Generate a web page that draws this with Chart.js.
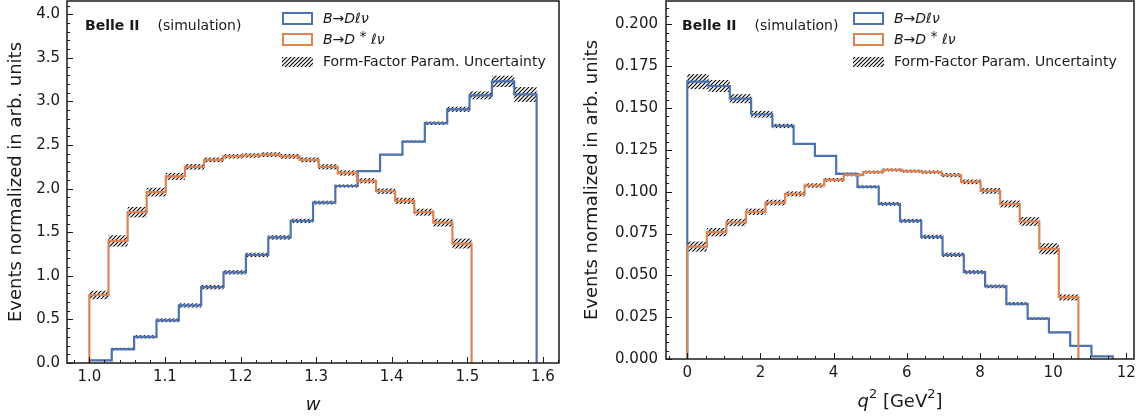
<!DOCTYPE html>
<html>
<head>
<meta charset="utf-8">
<title>B → D(*) ℓν shapes</title>
<script src="https://cdn.jsdelivr.net/npm/chart.js@4.4.1/dist/chart.umd.min.js"></script>
<style>
  html, body { margin: 0; padding: 0; background: #fff; }
  .panel { position: absolute; top: 0; height: 417px; }
  #wPanel { left: 0; width: 568px; }
  #q2Panel { left: 572px; width: 564px; }
</style>
</head>
<body>
<div class="panel" id="wPanel"><canvas id="wChart"></canvas></div>
<div class="panel" id="q2Panel"><canvas id="q2Chart"></canvas></div>
<script>
// ---- w spectra, 20 bins each ----
const wEdgesD = [1.0000, 1.0296, 1.0592, 1.0888, 1.1183, 1.1479, 1.1775, 1.2071, 1.2367, 1.2663, 1.2959,
                 1.3254, 1.3550, 1.3846, 1.4142, 1.4438, 1.4734, 1.5029, 1.5325, 1.5621, 1.5917];
const wDlnu = [0.03, 0.16, 0.30, 0.49, 0.66, 0.87, 1.04, 1.24, 1.44, 1.63,
               1.84, 2.03, 2.20, 2.39, 2.54, 2.75, 2.91, 3.07, 3.23, 3.08];
const wDlnuErr = [0.008, 0.015, 0.02, 0.022, 0.025, 0.025, 0.025, 0.025, 0.025, 0.025,
                  0.022, 0.018, 0.01, 0.008, 0.012, 0.02, 0.03, 0.045, 0.065, 0.085];

const wEdgesDst = [1.0000, 1.0253, 1.0506, 1.0758, 1.1011, 1.1264, 1.1517, 1.1770, 1.2022, 1.2275, 1.2528,
                   1.2781, 1.3034, 1.3286, 1.3539, 1.3792, 1.4045, 1.4298, 1.4550, 1.4803, 1.5056];
const wDstlnu = [0.78, 1.40, 1.73, 1.96, 2.14, 2.25, 2.33, 2.37, 2.38, 2.39,
                 2.37, 2.33, 2.25, 2.18, 2.09, 1.97, 1.86, 1.73, 1.61, 1.37];
const wDstlnuErr = [0.048, 0.065, 0.06, 0.05, 0.04, 0.032, 0.027, 0.025, 0.025, 0.027,
                    0.027, 0.028, 0.03, 0.03, 0.03, 0.032, 0.035, 0.04, 0.045, 0.057];

const wTicks = [1.0, 1.1, 1.2, 1.3, 1.4, 1.5, 1.6];
const wTickLabels = ['1.0', '1.1', '1.2', '1.3', '1.4', '1.5', '1.6'];
const wYTicks = [0, 0.5, 1.0, 1.5, 2.0, 2.5, 3.0, 3.5, 4.0];
const wYTickLabels = ['0.0', '0.5', '1.0', '1.5', '2.0', '2.5', '3.0', '3.5', '4.0'];

// ---- q^2 spectra, 20 bins each ----
const q2EdgesD = [0, 0.5814, 1.1628, 1.7442, 2.3256, 2.9070, 3.4884, 4.0698, 4.6512, 5.2326, 5.8140,
                  6.3954, 6.9768, 7.5582, 8.1396, 8.7210, 9.3024, 9.8838, 10.4652, 11.0466, 11.628];
const q2Dlnu = [0.1658, 0.1632, 0.1556, 0.1463, 0.1393, 0.1286, 0.1214, 0.1107, 0.1029, 0.0927,
                0.0826, 0.0730, 0.0623, 0.0519, 0.0434, 0.0330, 0.0241, 0.0159, 0.0079, 0.0016];
const q2DlnuErr = [0.0045, 0.0036, 0.0027, 0.002, 0.0013, 0.0004, 0.0004, 0.0007, 0.0009, 0.0011,
                   0.0012, 0.0013, 0.0013, 0.0012, 0.0011, 0.001, 0.0008, 0.0005, 0.0003, 0.0001];

const q2EdgesDst = [0, 0.5345, 1.0690, 1.6035, 2.1380, 2.6725, 3.2070, 3.7415, 4.2760, 4.8105, 5.3450,
                    5.8795, 6.4140, 6.9485, 7.4830, 8.0175, 8.5520, 9.0865, 9.6210, 10.1555, 10.690];
const q2Dstlnu = [0.0672, 0.0758, 0.0816, 0.0880, 0.0935, 0.0987, 0.1037, 0.1071, 0.1101, 0.1117,
                  0.1130, 0.1123, 0.1117, 0.1099, 0.1059, 0.1005, 0.0927, 0.0822, 0.0659, 0.0368];
const q2DstlnuErr = [0.003, 0.0025, 0.0022, 0.0019, 0.0017, 0.0015, 0.0013, 0.0011, 0.0009, 0.0009,
                     0.0009, 0.0009, 0.001, 0.0012, 0.0014, 0.0017, 0.0021, 0.0026, 0.0033, 0.0018];

const q2Ticks = [0, 2, 4, 6, 8, 10, 12];
const q2TickLabels = ['0', '2', '4', '6', '8', '10', '12'];
const q2YTicks = [0, 0.025, 0.05, 0.075, 0.1, 0.125, 0.15, 0.175, 0.2];
const q2YTickLabels = ['0.000', '0.025', '0.050', '0.075', '0.100', '0.125', '0.150', '0.175', '0.200'];

const BLUE = '#4C72B0';
const ORANGE = '#DD8452';
const INK = '#1a1a1a';
const FAMILY = "'DejaVu Sans', sans-serif";
const IT = "italic 14px " + FAMILY;
const UP = "14px " + FAMILY;

// legend labels as [text, font, dy] runs (mathtext-like)
const labelDlnu = [['B', IT], ['→', UP], ['Dℓν', IT]];
const labelDstlnu = [['B', IT], ['→', UP], ['D', IT], [' * ', UP, -3], ['ℓν', IT]];
const labelBand = [['Form-Factor Param. Uncertainty', UP]];

// histtype='step' outline: rise at first edge, fall at last edge
function stepPoints(edges, vals) {
  const pts = [{x: edges[0], y: 0}];
  vals.forEach((v, i) => pts.push({x: edges[i], y: v}));
  pts.push({x: edges[edges.length - 1], y: vals[vals.length - 1]});
  pts.push({x: edges[edges.length - 1], y: 0});
  return pts;
}

function richWidth(ctx, runs) {
  let w = 0;
  runs.forEach(r => { ctx.font = r[1]; w += ctx.measureText(r[0]).width; });
  return w;
}

function richText(ctx, x, y, runs) {
  runs.forEach(r => {
    ctx.font = r[1];
    ctx.fillText(r[0], x, y + (r[2] || 0));
    x += ctx.measureText(r[0]).width;
  });
}

const hatchCache = new WeakMap();
function hatchFor(ctx) {
  if (hatchCache.has(ctx)) return hatchCache.get(ctx);
  const c = document.createElement('canvas');
  c.width = 4; c.height = 4;
  const g = c.getContext('2d');
  g.strokeStyle = '#000';
  g.lineWidth = 1.1;
  g.beginPath();
  g.moveTo(0, 4); g.lineTo(4, 0);
  g.moveTo(-1, 1); g.lineTo(1, -1);
  g.moveTo(3, 5); g.lineTo(5, 3);
  g.stroke();
  const p = ctx.createPattern(c, 'repeat');
  hatchCache.set(ctx, p);
  return p;
}

// per-panel decorations: bands, minor ticks, labels, legend
const panelDecor = {
  wChart: {
    bands: [[wEdgesD, wDlnu, wDlnuErr], [wEdgesDst, wDstlnu, wDstlnuErr]],
    xMinor: 0.02, yMinor: 0.1,
    xTitle: [['w', 'italic 18px ' + FAMILY]], xTitleY: 405,
    tagX: 85, legendX: 283
  },
  q2Chart: {
    bands: [[q2EdgesD, q2Dlnu, q2DlnuErr], [q2EdgesDst, q2Dstlnu, q2DstlnuErr]],
    xMinor: 0.5, yMinor: 0.005,
    xTitle: [['q', 'italic 18px ' + FAMILY], ['2', '13px ' + FAMILY, -7], [' [GeV', '18px ' + FAMILY],
             ['2', '13px ' + FAMILY, -7], [']', '18px ' + FAMILY]], xTitleY: 402,
    tagX: 110, legendX: 282
  }
};

const decor = {
  id: 'decor',
  beforeDatasetsDraw(chart) {
    const d = panelDecor[chart.canvas.id];
    const {ctx, chartArea: a, scales: {x, y}} = chart;
    ctx.save();
    ctx.beginPath();
    ctx.rect(a.left, a.top, a.right - a.left, a.bottom - a.top);
    ctx.clip();
    ctx.fillStyle = hatchFor(ctx);
    d.bands.forEach(([edges, vals, errs]) => {
      vals.forEach((v, i) => {
        const x0 = x.getPixelForValue(edges[i]);
        const x1 = x.getPixelForValue(edges[i + 1]);
        const y0 = y.getPixelForValue(v + errs[i]);
        const y1 = y.getPixelForValue(v - errs[i]);
        ctx.fillRect(x0, y0, x1 - x0, y1 - y0);
      });
    });
    ctx.restore();
  },
  afterDraw(chart) {
    const d = panelDecor[chart.canvas.id];
    const {ctx, chartArea: a, scales: {x, y}} = chart;
    ctx.save();

    // inward ticks on left and bottom
    ctx.strokeStyle = INK;
    ctx.lineWidth = 1;
    ctx.beginPath();
    x.ticks.forEach(t => {
      const px = Math.round(x.getPixelForValue(t.value)) + 0.5;
      ctx.moveTo(px, a.bottom); ctx.lineTo(px, a.bottom - 6);
    });
    for (let k = Math.ceil(x.min / d.xMinor); k * d.xMinor <= x.max; k++) {
      const px = Math.round(x.getPixelForValue(k * d.xMinor)) + 0.5;
      ctx.moveTo(px, a.bottom); ctx.lineTo(px, a.bottom - 3);
    }
    y.ticks.forEach(t => {
      const py = Math.round(y.getPixelForValue(t.value)) + 0.5;
      ctx.moveTo(a.left, py); ctx.lineTo(a.left + 6, py);
    });
    for (let k = 0; k * d.yMinor <= y.max; k++) {
      const py = Math.round(y.getPixelForValue(k * d.yMinor)) + 0.5;
      ctx.moveTo(a.left, py); ctx.lineTo(a.left + 3, py);
    }
    ctx.stroke();

    // frame
    ctx.lineWidth = 1.5;
    ctx.strokeRect(a.left, a.top, a.right - a.left, a.bottom - a.top);

    ctx.fillStyle = INK;
    ctx.textBaseline = 'middle';

    // x axis title
    const tw = richWidth(ctx, d.xTitle);
    richText(ctx, (a.left + a.right) / 2 - tw / 2, d.xTitleY, d.xTitle);

    // experiment tag
    ctx.font = 'bold 14px ' + FAMILY;
    ctx.fillText('Belle II', d.tagX, 26);
    const bw = ctx.measureText('Belle II').width;
    ctx.font = UP;
    ctx.fillText('(simulation)', d.tagX + bw + 18, 26);

    // legend
    const bx = d.legendX, boxW = 29, textX = bx + 40;
    ctx.lineWidth = 2;
    ctx.strokeStyle = BLUE;
    ctx.strokeRect(bx, 13, boxW, 11);
    richText(ctx, textX, 19, labelDlnu);
    ctx.strokeStyle = ORANGE;
    ctx.strokeRect(bx, 34, boxW, 11);
    richText(ctx, textX, 40, labelDstlnu);
    ctx.fillStyle = hatchFor(ctx);
    ctx.fillRect(bx - 1, 57, boxW + 2, 10);
    ctx.fillStyle = INK;
    richText(ctx, textX, 62, labelBand);

    ctx.restore();
  }
};

function buildPanel(id, p) {
  const line = (label, pts, color, order) => ({
    label, data: pts, borderColor: color, borderWidth: 2.2, stepped: true,
    pointRadius: 0, fill: false, order, borderJoinStyle: 'miter'
  });
  return new Chart(document.getElementById(id), {
    type: 'line',
    data: {
      datasets: [
        line('B→Dℓν', stepPoints(p.edgesD, p.valsD), BLUE, 1),
        line('B→D*ℓν', stepPoints(p.edgesDst, p.valsDst), ORANGE, 0)
      ]
    },
    options: {
      responsive: true,
      maintainAspectRatio: false,
      animation: false,
      events: [],
      layout: { padding: p.padding },
      scales: {
        x: {
          type: 'linear', min: p.xMin, max: p.xMax,
          grid: { display: false, drawTicks: false },
          border: { display: false },
          ticks: {
            font: { family: FAMILY, size: 15 }, color: INK, padding: 5,
            maxRotation: 0, autoSkip: false,
            callback: (v, i) => p.xLabels[i]
          },
          afterBuildTicks: s => { s.ticks = p.xTicks.map(v => ({ value: v })); },
          afterFit: s => { s.height = p.xAxisH; s.paddingLeft = 0; s.paddingRight = 0; }
        },
        y: {
          type: 'linear', min: 0, max: p.yMax,
          grid: { display: false, drawTicks: false },
          border: { display: false },
          title: {
            display: true, text: 'Events normalized in arb. units', color: INK,
            font: { family: FAMILY, size: 18 }, padding: { top: p.yTitlePad, bottom: 0 }
          },
          ticks: {
            font: { family: FAMILY, size: 15 }, color: INK, padding: p.yTickPad,
            autoSkip: false,
            callback: (v, i) => p.yLabels[i]
          },
          afterBuildTicks: s => { s.ticks = p.yTicks.map(v => ({ value: v })); },
          afterFit: s => { s.width = p.yAxisW; s.paddingTop = 0; s.paddingBottom = 0; }
        }
      },
      plugins: { legend: { display: false }, tooltip: { enabled: false } }
    },
    plugins: [decor]
  });
}

buildPanel('wChart', {
  edgesD: wEdgesD, valsD: wDlnu, edgesDst: wEdgesDst, valsDst: wDstlnu,
  xMin: 0.9704, xMax: 1.6213, yMax: 4.152,
  xTicks: wTicks, xLabels: wTickLabels, yTicks: wYTicks, yLabels: wYTickLabels,
  padding: { top: 1, right: 9, left: 0, bottom: 0 },
  xAxisH: 54, yAxisW: 67, yTitlePad: 6, yTickPad: 7
});

buildPanel('q2Chart', {
  edgesD: q2EdgesD, valsD: q2Dlnu, edgesDst: q2EdgesDst, valsDst: q2Dstlnu,
  xMin: -0.5814, xMax: 12.2094, yMax: 0.2140,
  xTicks: q2Ticks, xLabels: q2TickLabels, yTicks: q2YTicks, yLabels: q2YTickLabels,
  padding: { top: 1, right: 2, left: 0, bottom: 0 },
  xAxisH: 58, yAxisW: 94, yTitlePad: 10, yTickPad: 8
});
</script>
</body>
</html>
